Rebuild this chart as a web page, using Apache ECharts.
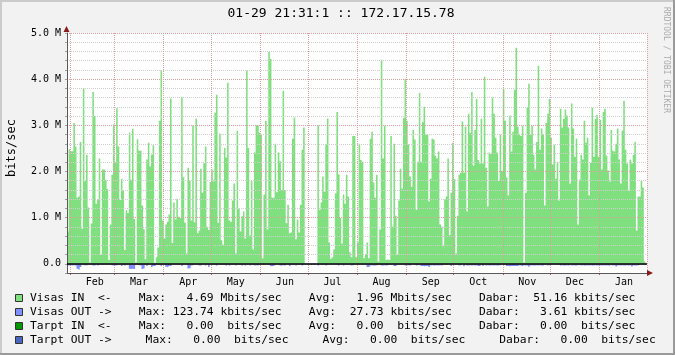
<!DOCTYPE html>
<html><head><meta charset="utf-8">
<script src="https://cdn.jsdelivr.net/npm/echarts@6/dist/echarts.min.js"></script>
<style>html,body{margin:0;padding:0;background:#F2F2F2}#c{width:675px;height:355px}</style>
</head><body><div id="c"></div>
<script>
const titleText = '01-29 21:31:1 :: 172.17.15.78';
const yUnitLabel = 'bits/sec';
const watermark = 'RRDTOOL / TOBI OETIKER';
const monthNames = ['Feb','Mar','Apr','May','Jun','Jul','Aug','Sep','Oct','Nov','Dec','Jan'];
// category index of the 1st of each month (index 0 = Jan 30)
const monthStartIdx = [2,30,61,91,122,152,183,214,244,275,305,336];
// category index where each month label sits
const monthLabelIdx = [17,45,76,106,137,167,198,229,259,290,320,351];
// Visas IN, Mbit/s per day
const visasIn = [
0.70,2.48,2.44,2.44,3.05,2.54,1.43,1.46,2.64,0.76,3.81,1.79,2.36,1.22,0.03,0.87,3.72,3.2,1.3,1.4,2.28,0.19,2.04,2.04,1.82,1.62,0.08,0.85,1.93,3.02,2.2,3.37,2.54,1.38,1.84,1.59,0.30,1.16,1.1,2.84,1.82,2.92,0.97,0.03,2.7,2.45,2.45,1.26,0.75,0.10,2.26,2.62,2.11,2.36,2.57,0.02,0.14,0.35,3.1,4.2,
0.94,0.55,0.85,0.91,1.07,3.58,0.45,1.33,0.96,1.41,1.02,0.99,3.62,1.87,0.89,0.22,2.08,1.8,0.94,3.0,0.9,3.14,0.66,0.72,2.06,1.54,2.18,2.54,0.8,0.73,1.77,2.04,1.78,3.27,3.66,0.89,2.82,0.51,0.41,2.51,2.3,3.92,0.94,0.91,1.37,1.74,0.22,2.88,1.2,0.7,1.03,1.13,0.55,4.19,2.51,0.61,1.8,0.31,2.41,3.0,
3.0,2.84,2.8,0.12,1.5,3.1,0.74,4.59,4.44,1.43,1.43,2.6,1.55,2.41,2.22,1.6,3.75,1.6,0.88,1.28,0.66,0.68,2.71,3.17,0.53,0.96,0.68,1.28,2.47,2.95,0,0,0,0,0,0,0,0,3.0,1.17,1.33,1.89,1.56,2.59,3.15,0.46,0.11,0.14,0.31,1.52,3.29,1.94,0.99,0.44,1.5,1.3,1.93,1.46,0.25,0.14,2.77,
2.77,0.14,0.46,2.6,2.25,2.21,0.12,0.21,0.46,0.12,2.71,2.86,1.76,1.43,1.93,0.05,0.74,4.42,2.28,2.99,0.08,0.09,0.08,2.77,0.81,2.6,1.04,0.19,1.37,2.06,1.63,3.16,4.01,3.1,2.59,1.89,1.67,2.9,2.69,1.17,2.21,3.7,2.21,3.07,3.4,2.8,2.8,1.35,1.84,2.71,2.69,2.34,2.28,2.43,0.85,0.8,0.38,1.4,1.46,2.28,0.62,
1.54,2.62,1.83,0.22,1.04,1.93,1.97,3.08,1.97,2.97,1.13,3.25,2.84,3.72,2.13,2.9,3.57,2.25,2.17,3.14,2.17,4.05,2.08,1.24,2.41,2.38,3.6,3.25,2.73,2.41,1.8,2.8,2.01,3.79,3.1,1.87,1.48,3.21,2.43,2.86,3.77,4.68,2.97,2.8,2.77,2.99,0.03,1.54,3.38,3.9,2.8,2.99,2.36,2.04,2.64,4.29,2.47,2.93,2.8,1.26,3.05,
3.25,3.57,2.73,2.15,2.58,1.84,2.21,1.37,3.36,2.95,3.14,3.34,3.21,2.95,1.74,3.47,2.93,2.32,2.71,0.85,1.82,2.36,2.26,3.1,2.62,2.73,1.48,2.19,3.38,2.32,3.14,3.23,2.32,3.12,2.04,3.29,3.36,2.34,2.02,1.78,2.9,2.45,2.43,2.6,2.93,2.26,1.74,2.88,3.53,2.47,2.17,1.59,2.26,2.17,2.36,2.64,0.72,1.46,1.46,1.8,1.65,0.05,
null];
// Visas OUT, kbit/s per day (drawn below zero)
const visasOut = [
35,38,34,36,33,35,110,124,70,18,15,36,34,15,18,14,35,37,16,35,16,14,18,15,17,13,16,18,34,36,35,33,17,15,50,18,35,16,14,110,112,108,115,17,16,34,36,112,105,18,50,16,15,70,48,50,17,15,18,50,
18,16,65,68,50,48,16,18,15,17,14,16,50,17,15,18,100,95,35,34,16,18,15,35,36,17,15,35,16,70,18,15,17,16,35,17,15,18,16,14,35,17,35,16,18,15,35,17,14,16,35,18,35,15,17,35,16,18,35,34,
35,16,18,15,17,16,14,18,50,52,48,16,18,15,35,36,34,35,17,15,50,16,18,15,35,17,16,14,35,15,10,10,10,10,10,10,10,10,35,18,16,15,17,35,16,18,15,17,14,16,18,35,15,17,35,16,18,15,17,35,34,
16,18,15,17,14,16,18,15,70,68,35,34,36,35,33,16,18,35,36,34,35,33,17,15,16,50,48,18,15,17,16,14,35,36,34,35,16,18,15,35,34,17,50,48,52,50,49,70,35,34,36,35,33,35,34,36,17,15,18,16,14,
50,16,18,15,17,35,34,16,55,18,35,36,34,35,33,35,34,50,48,17,50,16,35,34,36,35,33,35,34,36,35,34,17,15,18,50,48,52,50,49,51,50,48,34,35,50,34,36,35,65,35,34,36,35,33,35,34,36,35,17,16,
35,34,17,15,18,16,14,17,35,34,36,35,33,35,17,35,34,36,35,33,16,35,34,36,35,33,35,34,36,35,34,36,35,33,35,34,35,34,36,35,17,35,34,60,35,33,35,34,36,35,34,35,33,60,34,36,35,34,17,15,18,14,
null];
const legendRows = [
  {color:'#80E080', text:'Visas IN  <-    Max:   4.69 Mbits/sec    Avg:   1.96 Mbits/sec    Dabar:  51.16 kbits/sec'},
  {color:'#7F8FFF', text:'Visas OUT ->    Max: 123.74 kbits/sec    Avg:  27.73 kbits/sec    Dabar:   3.61 kbits/sec'},
  {color:'#009A00', text:'Tarpt IN  <-    Max:   0.00  bits/sec    Avg:   0.00  bits/sec    Dabar:   0.00  bits/sec'},
  {color:'#4A66BE', text:'Tarpt OUT ->     Max:   0.00  bits/sec     Avg:   0.00  bits/sec     Dabar:   0.00  bits/sec'}
];

const FONT = '"DejaVu Sans Mono", monospace';
const cats = visasIn.map((_, i) => String(i));
const G = {left:67, right:28, top:33, bottom:82};
const W = 675, H = 355;
const gx0 = G.left, gx1 = W - G.right, gy0 = G.top, gy1 = H - G.bottom;

const graphics = [];
// border shading
graphics.push({type:'rect', shape:{x:0,y:0,width:W,height:2}, style:{fill:'#CBCBCB'}, z:100});
graphics.push({type:'rect', shape:{x:0,y:0,width:2,height:H}, style:{fill:'#CBCBCB'}, z:100});
graphics.push({type:'rect', shape:{x:0,y:H-2,width:W,height:2}, style:{fill:'#9A9A9A'}, z:100});
graphics.push({type:'rect', shape:{x:W-2,y:0,width:2,height:H}, style:{fill:'#9A9A9A'}, z:100});
// title
graphics.push({type:'text', x:341, y:14, style:{text:titleText, font:'13px '+FONT, fill:'#000', textAlign:'center', textVerticalAlign:'middle'}, z:100});
// y unit
graphics.push({type:'text', x:12, y:148, rotation:Math.PI/2, style:{text:yUnitLabel, font:'12px '+FONT, fill:'#000', textAlign:'center', textVerticalAlign:'middle'}, z:100});
// watermark
graphics.push({type:'text', x:666, y:60, rotation:-Math.PI/2, style:{text:watermark, font:'8px '+FONT, fill:'#ABABAB', textAlign:'center', textVerticalAlign:'middle'}, z:100});
// arrows
graphics.push({type:'polygon', shape:{points:[[gx0-3.5,gy0-1],[gx0+2.5,gy0-1],[gx0-0.5,gy0-7]]}, style:{fill:'#8B1A1A'}, z:100});
graphics.push({type:'polygon', shape:{points:[[gx1,gy1-3],[gx1,gy1+3],[gx1+6,gy1]]}, style:{fill:'#8B1A1A'}, z:100});
// legend
legendRows.forEach((r, k) => {
  const cy = 298.5 + k*14;
  graphics.push({type:'rect', shape:{x:15.5,y:cy-4,width:7,height:7}, style:{fill:r.color, stroke:'#333', lineWidth:1}, z:100});
  graphics.push({type:'text', x:30, y:cy, style:{text:r.text, font:'11.3px '+FONT, fill:'#000', textAlign:'left', textVerticalAlign:'middle'}, z:100});
});

const chart = echarts.init(document.getElementById('c'), null, {renderer:'canvas'});
chart.setOption({
  animation:false,
  backgroundColor:'#F2F2F2',
  grid:{left:G.left, right:G.right, top:G.top, bottom:G.bottom, show:true, backgroundColor:'#FFFFFF', borderWidth:0, containLabel:false},
  xAxis:{
    type:'category', data:cats, boundaryGap:true, z:3,
    axisLine:{onZero:false, lineStyle:{color:'#5A5A5A', width:1}},
    axisTick:{show:true, interval:(i)=>monthStartIdx.includes(i), length:2, lineStyle:{color:'rgba(150,40,40,0.7)'}},
    axisLabel:{show:true, interval:(i)=>monthLabelIdx.includes(i),
      formatter:(v,i)=>{const k = monthLabelIdx.indexOf(i); return k>=0 ? monthNames[k] : '';},
      margin:4, fontSize:10, fontFamily:FONT, color:'#000'},
    splitLine:{show:true, interval:(i)=>monthStartIdx.includes(i), lineStyle:{color:'#DCA0A0', type:[1,1], width:1}}
  },
  yAxis:{
    type:'value', min:-200000, max:5000000, interval:200000, z:3,
    axisLine:{show:true, lineStyle:{color:'#5A5A5A', width:1}},
    axisTick:{show:true, length:2, lineStyle:{color:'#A0A0A0'}},
    axisLabel:{margin:6, fontSize:10, fontFamily:FONT, color:'#000',
      formatter:(v)=> v===0 ? '0.0' : (v>0 && Math.abs(v % 1000000) < 1) ? (v/1e6).toFixed(1)+' M' : ''},
    splitLine:{show:true, lineStyle:{color:['#CFCFCF','#DCA0A0','#CFCFCF','#CFCFCF','#CFCFCF'], type:[1,1], width:1}}
  },
  series:[
    {type:'bar', name:'Visas IN', data:visasIn.map(v=>v==null?null:v*1e6), barWidth:'100%', barGap:'-100%',
     large:true, largeThreshold:50, itemStyle:{color:'#80E080'}, silent:true, z:2,
     markLine:{silent:true, symbol:['none','none'], label:{show:false}, z:10,
       lineStyle:{color:'#000', width:1.5, type:'solid'}, data:[{yAxis:0}]}},
    {type:'bar', name:'Visas OUT', data:visasOut.map(v=>v==null?null:-v*1000), barWidth:'100%', barGap:'-100%',
     large:true, largeThreshold:50, itemStyle:{color:'#7F8FFF'}, silent:true, z:2}
  ],
  graphic:graphics
});
</script></body></html>
